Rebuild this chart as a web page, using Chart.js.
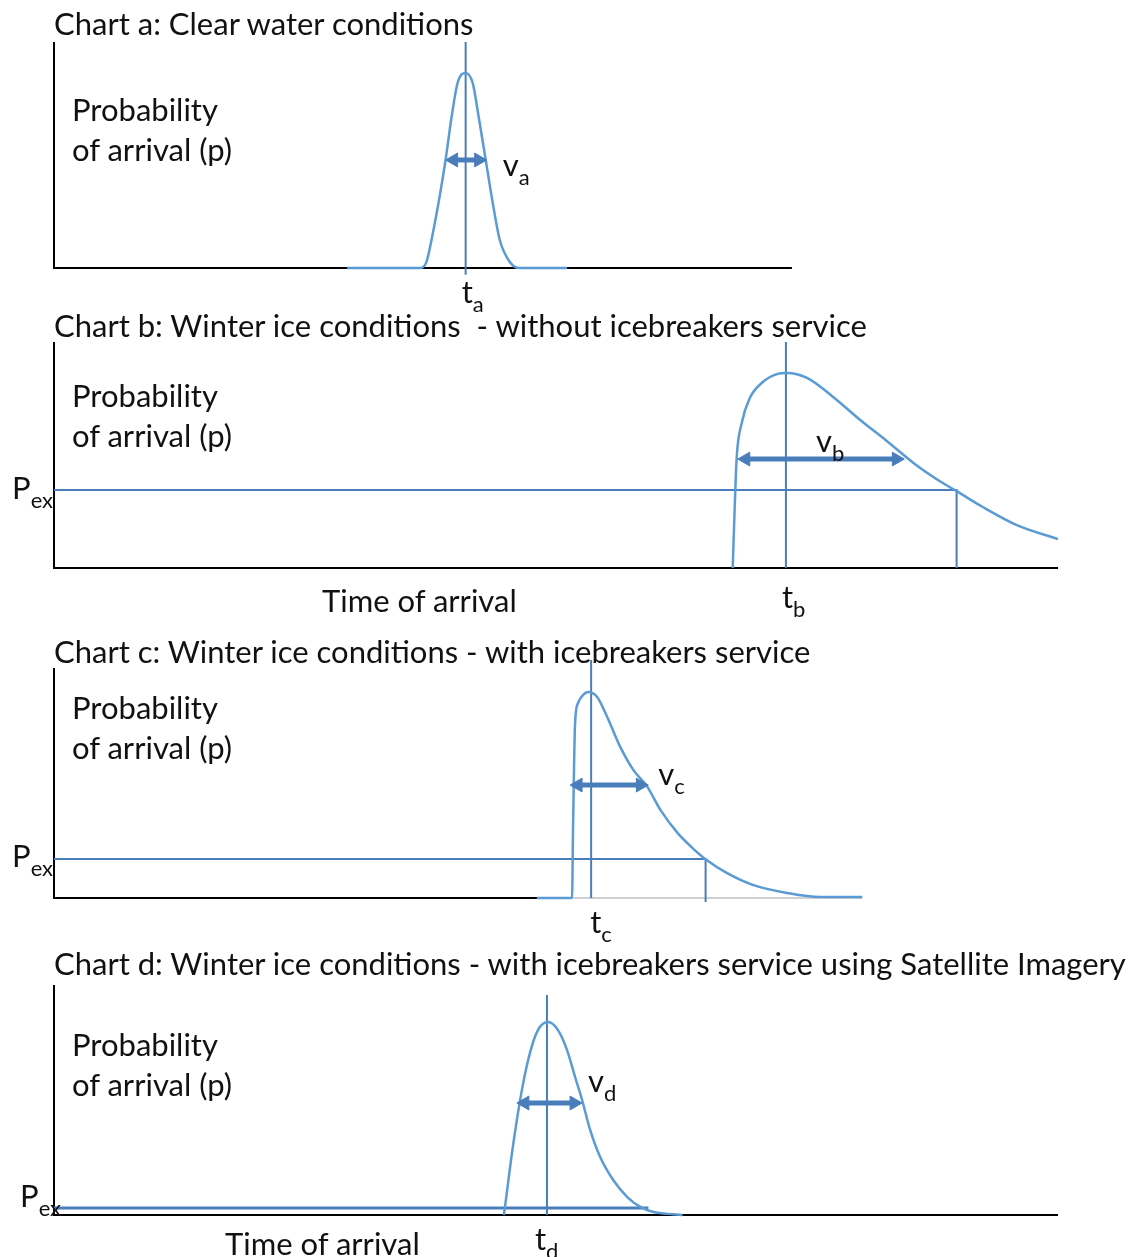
<!DOCTYPE html>
<html>
<head>
<meta charset="utf-8">
<script src="https://cdn.jsdelivr.net/npm/chart.js@4.4.0/dist/chart.umd.min.js"></script>
<style>
  body { margin: 0; background: #fff; width: 1133px; height: 1257px; position: relative; overflow: hidden; }
  canvas.panel { position: absolute; left: 0; }
  .txt { position: absolute; white-space: pre; font-family: Lato, "Open Sans", sans-serif; font-size: 31px; line-height: 31px; color: #111; }
  .txt .sub { font-size: 22px; position: relative; top: 9px; }
</style>
</head>
<body>
<canvas id="cA" class="panel" width="1133" height="320" style="top:0px"></canvas>
<canvas id="cB" class="panel" width="1133" height="320" style="top:320px"></canvas>
<canvas id="cC" class="panel" width="1133" height="300" style="top:640px"></canvas>
<canvas id="cD" class="panel" width="1133" height="317" style="top:940px"></canvas>
<script>
// Datos: tiempo 0..100, probabilidad 0..1 (1 = tope del eje)
var curvaA_t = [29.2, 36.5, 37.1, 37.6, 38.4, 39.0, 39.6, 40.2, 41.0, 41.7, 42.3, 43.0, 43.7, 44.4, 45.4, 46.4, 51.1];
var curvaA_p = [0, 0, 0.027, 0.124, 0.314, 0.478, 0.668, 0.819, 0.863, 0.819, 0.668, 0.478, 0.288, 0.124, 0.027, 0, 0];

var curvaB_t = [67.6, 67.8, 68.0, 68.5, 69.3, 70.6, 72.0, 73.0, 75.0, 77.6, 80.3, 83.0, 85.6, 88.2, 89.9, 92.5, 95.9, 100];
var curvaB_p = [0, 0.27, 0.491, 0.642, 0.752, 0.823, 0.858, 0.863, 0.841, 0.757, 0.655, 0.56, 0.465, 0.385, 0.34, 0.27, 0.19, 0.128];

var curvaC_t = [48.1, 51.6, 51.7, 51.9, 52.2, 52.7, 53.2, 54.1, 55.1, 56.4, 57.7, 59.1, 60.4, 62.1, 63.6, 65.0, 67.0, 69.6, 73.0, 76.3, 80.5];
var curvaC_p = [0, 0, 0.309, 0.761, 0.848, 0.883, 0.896, 0.874, 0.787, 0.657, 0.557, 0.483, 0.383, 0.283, 0.217, 0.165, 0.109, 0.057, 0.022, 0.004, 0.004];

var curvaD_t = [44.8, 44.9, 45.7, 46.6, 47.4, 48.2, 49.2, 50.2, 51.1, 51.9, 52.6, 53.4, 54.4, 55.7, 57.1, 58.4, 59.7, 61.7, 62.6];
var curvaD_p = [0, 0.03, 0.296, 0.543, 0.704, 0.804, 0.839, 0.804, 0.717, 0.6, 0.5, 0.37, 0.252, 0.152, 0.078, 0.035, 0.013, 0.003, 0];

// Tiempos de llegada (t) y extremos de la línea vertical
var tiempos = [41.0, 72.9, 53.5, 49.1];
var tiempoTope = [1.0, 1.0, 1.035, 0.957];
var tiempoBase = [-0.03, 0, 0, 0];

// Flechas de dispersión (v): inicio, fin, altura
var flechaIni = [39.8, 68.9, 52.2, 46.9];
var flechaFin = [42.3, 83.9, 58.4, 51.8];
var flechaP = [0.478, 0.482, 0.491, 0.487];

// Umbral Pex (no existe en la gráfica a)
var pex = [null, 0.345, 0.17, 0.03];
var pexFin = [null, 89.9, 64.9, 59.2];
var pexBase = [null, 0, -0.017, null];

// Largo del eje horizontal
var ejeFin = [73.5, 100, 100, 100];
var ejeNegroFin = [73.5, 100, 48.1, 100];

var titulos = [
  "Chart a: Clear water conditions",
  "Chart b: Winter ice conditions  - without icebreakers service",
  "Chart c: Winter ice conditions - with icebreakers service",
  "Chart d: Winter ice conditions - with icebreakers service using Satellite Imagery"
];
var subindices = ["a", "b", "c", "d"];
var ejeY = ["Probability", "of arrival (p)"];
var ejeX = "Time of arrival";

var COLOR_CURVA = '#5B9BD5';
var COLOR_LINEA = '#4A7EBB';
var FS = 31;

var paneles = [
  { id: 'cA', top: 0, padTop: 42, padBottom: 52, tituloBase: 35, ejeYBase: 121, ejeXBase: null, ejeXLeft: 0 },
  { id: 'cB', top: 320, padTop: 22, padBottom: 72, tituloBase: 337, ejeYBase: 407, ejeXBase: 612, ejeXLeft: 322 },
  { id: 'cC', top: 640, padTop: 28, padBottom: 42, tituloBase: 663, ejeYBase: 719, ejeXBase: null, ejeXLeft: 0 },
  { id: 'cD', top: 940, padTop: 45, padBottom: 42, tituloBase: 975, ejeYBase: 1056, ejeXBase: 1255, ejeXLeft: 225 }
];

function puntos(xs, ys) {
  return xs.map(function(x, i) { return {x: x, y: ys[i]}; });
}

function linea(data, color, ancho) {
  return {
    data: data,
    showLine: true,
    borderColor: color,
    borderWidth: ancho,
    pointRadius: 0,
    fill: false,
    clip: false,
    borderCapStyle: 'butt',
    borderJoinStyle: 'miter'
  };
}

function texto(html, left, base) {
  var d = document.createElement('div');
  d.className = 'txt';
  d.innerHTML = html;
  d.style.left = left + 'px';
  d.style.top = (base - 0.887 * FS) + 'px';
  document.body.appendChild(d);
  return d;
}

var curvas = [[curvaA_t, curvaA_p], [curvaB_t, curvaB_p], [curvaC_t, curvaC_p], [curvaD_t, curvaD_p]];

paneles.forEach(function(pan, i) {
  var ds = [];
  // flecha doble
  var fl = linea([{x: flechaIni[i], y: flechaP[i]}, {x: flechaFin[i], y: flechaP[i]}], COLOR_LINEA, 5);
  fl.pointRadius = 8;
  fl.pointStyle = 'triangle';
  fl.rotation = [-90, 90];
  fl.pointBackgroundColor = COLOR_LINEA;
  fl.pointBorderColor = COLOR_LINEA;
  fl.pointBorderWidth = 1;
  ds.push(fl);
  // curva de probabilidad
  var cv = linea(puntos(curvas[i][0], curvas[i][1]), COLOR_CURVA, 2.5);
  cv.cubicInterpolationMode = 'monotone';
  ds.push(cv);
  // tiempo t
  ds.push(linea([{x: tiempos[i], y: tiempoTope[i]}, {x: tiempos[i], y: tiempoBase[i]}], COLOR_LINEA, 2));
  // Pex
  if (pex[i] !== null) {
    var pp = [{x: 0, y: pex[i]}, {x: pexFin[i], y: pex[i]}];
    if (pexBase[i] !== null) pp.push({x: pexFin[i], y: pexBase[i]});
    ds.push(linea(pp, COLOR_LINEA, i === 3 ? 3 : 2));
  }
  // ejes
  ds.push(linea([{x: 0, y: 1}, {x: 0, y: 0}, {x: ejeNegroFin[i], y: 0}], '#000', 2));
  if (ejeNegroFin[i] < ejeFin[i]) {
    ds.push(linea([{x: ejeNegroFin[i], y: 0}, {x: curvas[i][0][curvas[i][0].length - 1], y: 0}], '#D0D0D0', 2));
  }

  var ctx = document.getElementById(pan.id).getContext('2d');
  var grafico = new Chart(ctx, {
    type: 'scatter',
    data: { datasets: ds },
    options: {
      responsive: false,
      animation: false,
      events: [],
      layout: { autoPadding: false, padding: { left: 54, right: 75, top: pan.padTop, bottom: pan.padBottom } },
      plugins: { legend: { display: false }, tooltip: { enabled: false } },
      scales: {
        x: { type: 'linear', min: 0, max: 100, display: false },
        y: { type: 'linear', min: 0, max: 1, display: false }
      }
    }
  });

  var sx = grafico.scales.x, sy = grafico.scales.y;
  function px(v) { return sx.getPixelForValue(v); }
  function py(v) { return pan.top + sy.getPixelForValue(v); }

  texto(titulos[i], 54, pan.tituloBase);
  texto(ejeY[0], 72, pan.ejeYBase);
  texto(ejeY[1], 72, pan.ejeYBase + 40);
  if (pan.ejeXBase !== null) {
    texto(ejeX, pan.ejeXLeft, pan.ejeXBase);
  }
  var dxT = [-4, -4, -1, -12][i];
  var dyT = [35, 40, 35, 35][i];
  texto('t<span class="sub">' + subindices[i] + '</span>', px(tiempos[i]) + dxT, py(0) + dyT);
  var vPos = [[16, 17], [-5, -7], [10, 0], [6, -10]][i];
  var vx = i === 1 ? (px(flechaIni[i]) + px(flechaFin[i])) / 2 + vPos[0] : px(flechaFin[i]) + 8 + vPos[0];
  texto('v<span class="sub">' + subindices[i] + '</span>', vx, py(flechaP[i]) + vPos[1]);
  if (pex[i] !== null) {
    texto('P<span class="sub">ex</span>', i === 3 ? 20 : 12, py(pex[i]) + (i === 3 ? -1 : 9));
  }
});
</script>
</body>
</html>
